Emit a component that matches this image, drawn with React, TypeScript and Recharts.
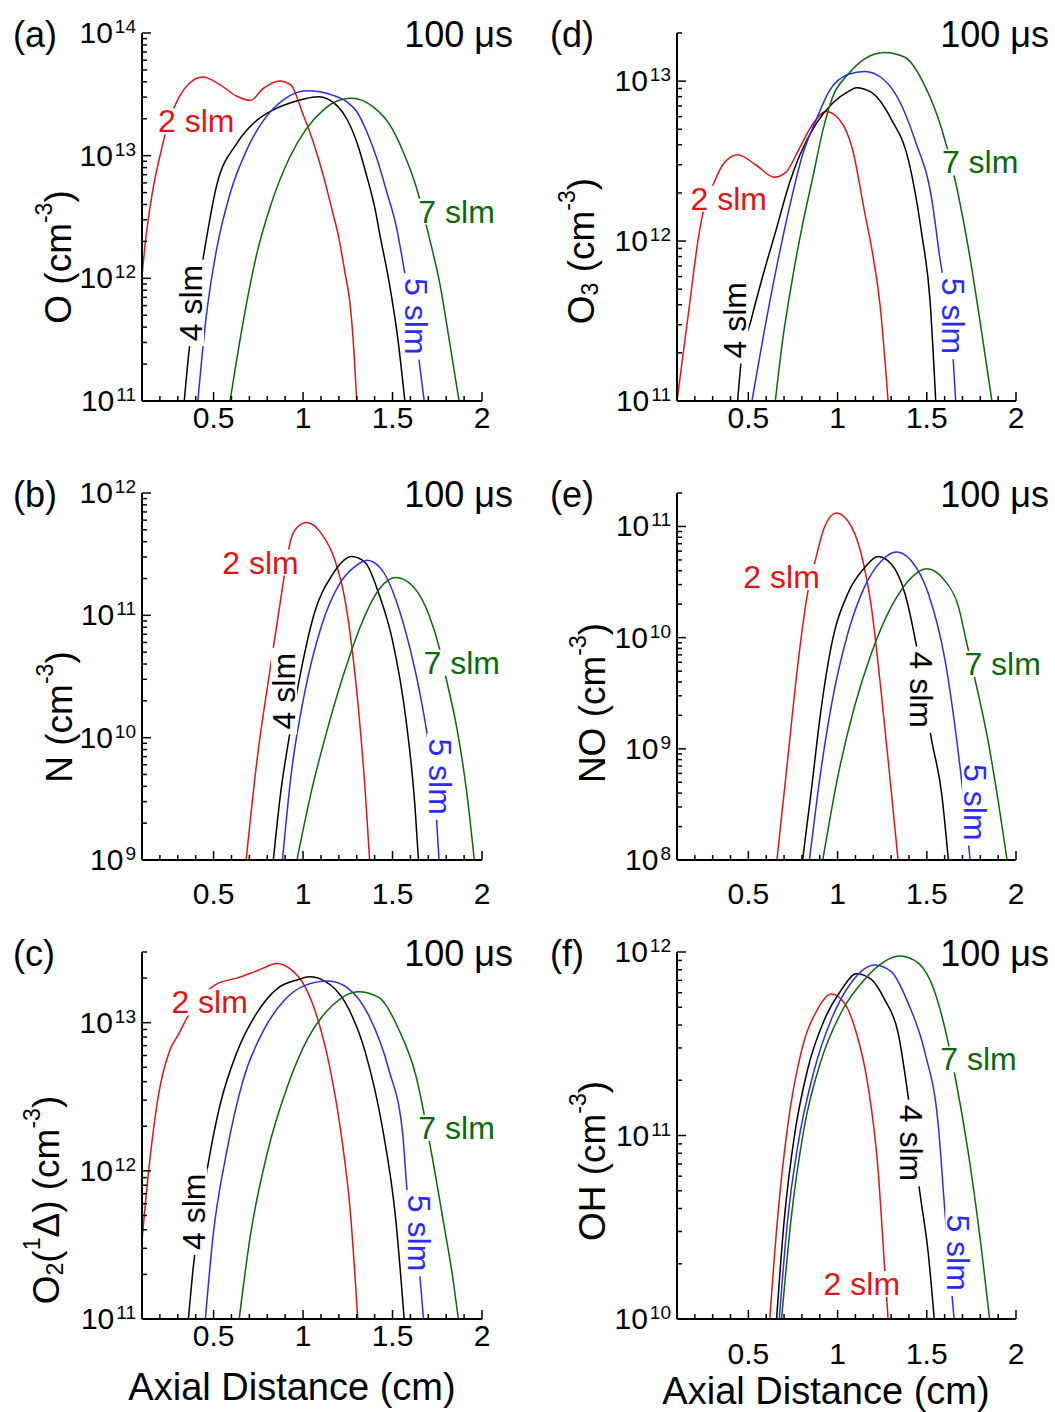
import React from 'react';
import { LineChart, Line, XAxis, YAxis, ReferenceDot } from 'recharts';

type Pt = [number, number];

// ---------------- data (axial distance cm, density cm^-3) ----------------
// (a) O
const O_2slm: Pt[] = [[0.1, 1.04e12], [0.12, 2.04e12], [0.157, 4.9e12], [0.204, 1.05e13], [0.242, 1.74e13], [0.308, 3.02e13], [0.365, 3.89e13], [0.44, 4.37e13], [0.535, 3.8e13], [0.63, 3.05e13], [0.705, 2.82e13], [0.78, 3.55e13], [0.87, 4.07e13], [0.93, 3.8e13], [1.001, 2.15e13], [1.057, 1.29e13], [1.113, 6.9e12], [1.169, 3.3e12], [1.197, 2.24e12], [1.235, 1.1e12], [1.262, 6.3e11], [1.284, 2.6e11], [1.3, 1e11]];
const O_4slm: Pt[] = [[0.336, 1e11], [0.365, 2.75e11], [0.44, 1.41e12], [0.516, 5.62e12], [0.63, 1.26e13], [0.743, 1.95e13], [0.856, 2.45e13], [0.927, 2.69e13], [1.005, 2.9e13], [1.085, 3.02e13], [1.188, 2.57e13], [1.244, 2.0e13], [1.3, 1.29e13], [1.355, 6.9e12], [1.402, 3.7e12], [1.43, 2.24e12], [1.48, 9.5e11], [1.53, 3.2e11], [1.569, 1e11]];
const O_5slm: Pt[] = [[0.412, 1e11], [0.459, 4.9e11], [0.516, 1.7e12], [0.592, 4.9e12], [0.686, 1.12e13], [0.78, 1.95e13], [0.894, 2.88e13], [0.96, 3.25e13], [1.02, 3.38e13], [1.1, 3.3e13], [1.169, 3.1e13], [1.244, 2.75e13], [1.3, 2.29e13], [1.355, 1.58e13], [1.411, 9.6e12], [1.467, 5.1e12], [1.523, 2.57e12], [1.565, 1.18e12], [1.649, 2.1e11], [1.677, 1e11]];
const O_7slm: Pt[] = [[0.592, 1e11], [0.667, 4.57e11], [0.743, 1.62e12], [0.818, 3.89e12], [0.927, 9.8e12], [1.02, 1.67e13], [1.113, 2.35e13], [1.169, 2.7e13], [1.271, 2.94e13], [1.392, 2.5e13], [1.485, 1.78e13], [1.56, 1.07e13], [1.635, 5.4e12], [1.707, 2.1e12], [1.764, 9.1e11], [1.82, 2.95e11], [1.872, 1e11]];

// (b) N
const N_2slm: Pt[] = [[0.682, 1e9], [0.743, 6.6e9], [0.818, 3.8e10], [0.875, 1.35e11], [0.932, 4.17e11], [0.97, 5.3e11], [1.02, 5.75e11], [1.102, 4.68e11], [1.178, 2.82e11], [1.234, 1.35e11], [1.272, 5.62e10], [1.31, 1.7e10], [1.348, 3.55e9], [1.372, 1e9]];
const N_4slm: Pt[] = [[0.834, 1e9], [0.875, 3.55e9], [0.923, 1.02e10], [0.989, 3.55e10], [1.064, 1.05e11], [1.159, 2.09e11], [1.272, 3.02e11], [1.348, 2.69e11], [1.423, 1.51e11], [1.499, 6.3e10], [1.575, 1.41e10], [1.625, 2.8e9], [1.645, 1e9]];
const N_5slm: Pt[] = [[0.885, 1e9], [0.932, 4.8e9], [1.008, 2.29e10], [1.102, 8.1e10], [1.197, 1.74e11], [1.291, 2.51e11], [1.357, 2.82e11], [1.442, 2.34e11], [1.518, 1.35e11], [1.594, 5.62e10], [1.66, 2.04e10], [1.698, 9.5e9], [1.745, 2.24e9], [1.76, 1e9]];
const N_7slm: Pt[] = [[0.966, 1e9], [1.045, 3.55e9], [1.14, 1.23e10], [1.234, 3.55e10], [1.329, 8.7e10], [1.423, 1.62e11], [1.518, 2.04e11], [1.612, 1.74e11], [1.707, 9.8e10], [1.764, 5.25e10], [1.802, 2.95e10], [1.858, 1.23e10], [1.915, 3.55e9], [1.957, 1e9]];

// (c) O2(1Delta)
const D_2slm: Pt[] = [[0.1, 3.4e11], [0.138, 1.02e12], [0.195, 3.4e12], [0.251, 6.3e12], [0.308, 8.5e12], [0.346, 1.05e13], [0.43, 1.48e13], [0.516, 1.82e13], [0.63, 2.0e13], [0.743, 2.24e13], [0.856, 2.51e13], [0.932, 2.29e13], [1.008, 1.78e13], [1.083, 1.05e13], [1.159, 4.37e12], [1.215, 1.7e12], [1.263, 5.5e11], [1.306, 1e11]];
const D_4slm: Pt[] = [[0.359, 1e11], [0.383, 2.04e11], [0.469, 1.1e12], [0.535, 2.75e12], [0.63, 6.3e12], [0.743, 1.17e13], [0.856, 1.7e13], [0.97, 1.95e13], [1.036, 2.04e13], [1.121, 1.91e13], [1.234, 1.38e13], [1.348, 6.3e12], [1.442, 2.0e12], [1.518, 4.7e11], [1.565, 1e11]];
const D_5slm: Pt[] = [[0.454, 1e11], [0.497, 3.63e11], [0.572, 1.32e12], [0.667, 4.17e12], [0.78, 8.9e12], [0.894, 1.41e13], [1.008, 1.78e13], [1.14, 1.91e13], [1.253, 1.7e13], [1.367, 1.12e13], [1.48, 4.79e12], [1.556, 1.82e12], [1.579, 7.9e11], [1.654, 1.9e11], [1.673, 1e11]];
const D_7slm: Pt[] = [[0.643, 1e11], [0.705, 3.63e11], [0.8, 1.32e12], [0.913, 3.72e12], [1.026, 7.8e12], [1.159, 1.29e13], [1.31, 1.62e13], [1.423, 1.48e13], [1.537, 8.9e12], [1.631, 4.37e12], [1.707, 1.55e12], [1.782, 4.7e11], [1.839, 1.82e11], [1.868, 1e11]];

// (d) O3
const O3_2slm: Pt[] = [[0.1, 1e11], [0.169, 3.9e11], [0.216, 9.8e11], [0.244, 1.48e12], [0.309, 2.34e12], [0.356, 2.99e12], [0.44, 3.46e12], [0.543, 2.99e12], [0.645, 2.51e12], [0.711, 2.7e12], [0.786, 3.8e12], [0.861, 5.4e12], [0.935, 6.45e12], [1.01, 5.75e12], [1.085, 3.7e12], [1.15, 1.55e12], [1.195, 8.5e11], [1.24, 3.8e11], [1.283, 1e11]];
const O3_4slm: Pt[] = [[0.44, 1e11], [0.459, 1.74e11], [0.515, 3.2e11], [0.58, 6.0e11], [0.655, 1.17e12], [0.73, 2.3e12], [0.786, 3.4e12], [0.879, 5.4e12], [0.973, 7.3e12], [1.066, 8.7e12], [1.105, 9.1e12], [1.19, 8.5e12], [1.302, 5.75e12], [1.396, 3.24e12], [1.471, 1.12e12], [1.518, 4.27e11], [1.55, 1e11]];
const O3_5slm: Pt[] = [[0.52, 1e11], [0.58, 2.4e11], [0.655, 6.6e11], [0.73, 1.62e12], [0.805, 3.5e12], [0.879, 5.7e12], [0.954, 8.7e12], [1.058, 1.1e13], [1.152, 1.15e13], [1.246, 1.05e13], [1.34, 7.76e12], [1.434, 4.27e12], [1.528, 1.82e12], [1.57, 8.3e11], [1.649, 1.74e11], [1.662, 1e11]];
const O3_7slm: Pt[] = [[0.651, 1e11], [0.692, 2.4e11], [0.749, 6.0e11], [0.805, 1.29e12], [0.861, 2.5e12], [0.917, 4.9e12], [0.973, 8.0e12], [1.058, 1.1e13], [1.152, 1.38e13], [1.264, 1.51e13], [1.377, 1.41e13], [1.49, 9.3e12], [1.584, 5.0e12], [1.659, 2.4e12], [1.734, 8.9e11], [1.809, 2.63e11], [1.865, 1e11]];

// (e) NO
const NO_2slm: Pt[] = [[0.66, 1e8], [0.72, 7.9e8], [0.776, 5.5e9], [0.832, 2.51e10], [0.879, 5.25e10], [0.926, 9.8e10], [0.992, 1.32e11], [1.058, 1.12e11], [1.133, 5.62e10], [1.189, 1.91e10], [1.245, 3.16e9], [1.302, 4.0e8], [1.339, 1e8]];
const NO_4slm: Pt[] = [[0.804, 1e8], [0.851, 4e8], [0.907, 2.24e9], [0.964, 8.3e9], [1.058, 2.51e10], [1.152, 4.27e10], [1.227, 5.37e10], [1.302, 4.57e10], [1.377, 2.51e10], [1.443, 8.3e9], [1.527, 1.2e9], [1.583, 4e8], [1.621, 1e8]];
const NO_5slm: Pt[] = [[0.842, 1e8], [0.889, 4e8], [0.964, 2.4e9], [1.058, 1.1e10], [1.152, 2.88e10], [1.245, 4.9e10], [1.33, 5.9e10], [1.414, 4.9e10], [1.508, 2.51e10], [1.602, 6.3e9], [1.677, 9.1e8], [1.73, 1.6e8], [1.743, 1e8]];
const NO_7slm: Pt[] = [[0.917, 1e8], [1.001, 5.6e8], [1.095, 2.4e9], [1.189, 7.2e9], [1.302, 1.91e10], [1.396, 3.24e10], [1.499, 4.17e10], [1.602, 3.24e10], [1.677, 1.91e10], [1.724, 8.9e9], [1.771, 4.17e9], [1.846, 1.12e9], [1.902, 3.24e8], [1.95, 1e8]];

// (f) OH
const OH_2slm: Pt[] = [[0.62, 1e10], [0.663, 3.47e10], [0.72, 1.12e11], [0.795, 2.82e11], [0.889, 4.9e11], [0.964, 5.9e11], [1.039, 5.25e11], [1.105, 3.63e11], [1.171, 1.86e11], [1.227, 6.5e10], [1.261, 2.09e10], [1.283, 1e10]];
const OH_4slm: Pt[] = [[0.658, 1e10], [0.701, 3.47e10], [0.757, 9.8e10], [0.832, 2.29e11], [0.926, 4.27e11], [1.02, 6.2e11], [1.105, 7.6e11], [1.189, 7.1e11], [1.264, 5.5e11], [1.339, 3.63e11], [1.396, 1.62e11], [1.461, 4.9e10], [1.508, 2.29e10], [1.542, 1e10]];
const OH_5slm: Pt[] = [[0.673, 1e10], [0.72, 3.47e10], [0.776, 8.7e10], [0.87, 2.29e11], [0.964, 4.27e11], [1.076, 6.8e11], [1.208, 8.5e11], [1.302, 7.8e11], [1.396, 5.25e11], [1.49, 2.82e11], [1.565, 1.12e11], [1.602, 3.8e10], [1.644, 1.26e10], [1.653, 1e10]];
const OH_7slm: Pt[] = [[0.686, 1e10], [0.739, 3.47e10], [0.814, 1.12e11], [0.908, 2.57e11], [1.02, 4.68e11], [1.152, 7.1e11], [1.264, 8.9e11], [1.349, 9.5e11], [1.452, 8.7e11], [1.546, 6.0e11], [1.612, 3.47e11], [1.659, 2.09e11], [1.734, 7.9e10], [1.809, 2.29e10], [1.852, 1e10]];

// ---------------- axis ticks / labels ----------------
const X_TICKS = [0.2, 0.3, 0.4, 0.5, 0.6, 0.7, 0.8, 0.9, 1, 1.1, 1.2, 1.3, 1.4, 1.5, 1.6, 1.7, 1.8, 1.9, 2];
const X_LABELS = [0.5, 1, 1.5, 2];
const FLOW_NAMES = ['2 slm', '4 slm', '5 slm', '7 slm'];
const TIME_LABEL = '100 \u03bcs';
const X_TITLE = 'Axial Distance (cm)';

// curve-label anchors (data coords): [series index, x, y, rotation]
const O_LABELS: [number, number, number, number][] = [[0, 0.403, 1.9e13, 0], [1, 0.374, 6.3e11, -90], [2, 1.631, 4.9e11, 90], [3, 1.858, 3.5e12, 0]];
const N_LABELS: [number, number, number, number][] = [[0, 0.762, 2.7e11, 0], [1, 0.894, 2.4e10, -90], [2, 1.764, 4.8e9, 90], [3, 1.887, 4.1e10, 0]];
const D_LABELS: [number, number, number, number][] = [[0, 0.478, 1.37e13, 0], [1, 0.393, 5.3e11, -90], [2, 1.65, 3.8e11, 90], [3, 1.858, 1.95e12, 0]];
const O3_LABELS: [number, number, number, number][] = [[0, 0.39, 1.84e12, 0], [1, 0.427, 3.2e11, -90], [2, 1.649, 3.4e11, 90], [3, 1.799, 3.1e12, 0]];
const NO_LABELS: [number, number, number, number][] = [[0, 0.686, 3.5e10, 0], [1, 1.467, 3.4e9, 90], [2, 1.771, 3.3e8, 90], [3, 1.925, 5.8e9, 0]];
const OH_LABELS: [number, number, number, number][] = [[0, 1.136, 1.55e10, 0], [1, 1.41, 9.1e10, 90], [2, 1.677, 2.3e10, 90], [3, 1.79, 2.6e11, 0]];

// ---------------- styling ----------------
const FONT = '"Liberation Sans", Arial, Helvetica, sans-serif';
const COLORS = ['#e31414', '#000000', '#2b2bff', '#0a6a0a'];
const Y_AXIS_W = 60;
const X_AXIS_H = 30;
const TICK_FONT = 30;

function logTicks(lo: number, hi: number): number[] {
  const out: number[] = [];
  for (let e = Math.floor(Math.log10(lo)); e <= Math.ceil(Math.log10(hi)); e++) {
    for (let m = 1; m < 10; m++) {
      const v = m * Math.pow(10, e);
      if (v >= lo * 0.999 && v <= hi * 1.001) out.push(v);
    }
  }
  return out;
}

const YTick = (props: any) => {
  const { x, y, payload } = props;
  const v = payload.value as number;
  const e = Math.round(Math.log10(v));
  const major = Math.abs(v / Math.pow(10, e) - 1) < 1e-6;
  return (
    <g>
      <line x1={x} x2={x + (major ? 9 : 5)} y1={y} y2={y} stroke="#000" strokeWidth={1.5} />
      {major && (
        <text x={x - 6} y={y + 10} textAnchor="end" fontFamily={FONT} fill="#000">
          <tspan fontSize={TICK_FONT}>10</tspan>
          <tspan fontSize={19} dx={2} dy={-10}>{String(e)}</tspan>
        </text>
      )}
    </g>
  );
};

const makeXTick = (off: number) => (props: any) => {
  const { x, y, payload } = props;
  const v = payload.value as number;
  const major = X_LABELS.some((m) => Math.abs(m - v) < 1e-6);
  return (
    <g>
      <line x1={x} x2={x} y1={y} y2={y - (major ? 9 : 5)} stroke="#000" strokeWidth={1.5} />
      {major && (
        <text x={x} y={y + off} textAnchor="middle" fontFamily={FONT} fontSize={TICK_FONT} fill="#000">
          {String(v)}
        </text>
      )}
    </g>
  );
};

const makeLabelShape = (text: string, color: string, rot: number) => (p: any) => {
  const { cx, cy } = p;
  const w = text.length * 15.3 + 10;
  return (
    <g transform={rot ? `rotate(${rot} ${cx} ${cy})` : undefined}>
      <rect x={cx - w / 2} y={cy - 13} width={w} height={26} fill="#fff" />
      <text x={cx} y={cy + 11} textAnchor="middle" fontFamily={FONT} fontSize={32} fill={color}>
        {text}
      </text>
    </g>
  );
};

type Panel = {
  key: string;
  left: number;
  top: number;
  w: number;
  h: number;
  plot: { top: number; left: number; right: number; bottom: number };
  yDomain: [number, number];
  series: Pt[][];
  labels: [number, number, number, number][];
  xOff: number;
};

const PANELS: Panel[] = [
  { key: 'a', left: 0, top: 0, w: 530, h: 460, plot: { top: 33, left: 142, right: 48, bottom: 59 }, yDomain: [1e11, 1e14], series: [O_2slm, O_4slm, O_5slm, O_7slm], labels: O_LABELS, xOff: 27 },
  { key: 'b', left: 0, top: 460, w: 530, h: 460, plot: { top: 33, left: 142, right: 48, bottom: 60 }, yDomain: [1e9, 1e12], series: [N_2slm, N_4slm, N_5slm, N_7slm], labels: N_LABELS, xOff: 44 },
  { key: 'c', left: 0, top: 920, w: 530, h: 492, plot: { top: 32, left: 142, right: 48, bottom: 93 }, yDomain: [1e11, 3e13], series: [D_2slm, D_4slm, D_5slm, D_7slm], labels: D_LABELS, xOff: 27 },
  { key: 'd', left: 530, top: 0, w: 525, h: 460, plot: { top: 33, left: 147, right: 39, bottom: 59 }, yDomain: [1e11, 2e13], series: [O3_2slm, O3_4slm, O3_5slm, O3_7slm], labels: O3_LABELS, xOff: 27 },
  { key: 'e', left: 530, top: 460, w: 525, h: 460, plot: { top: 33, left: 147, right: 39, bottom: 60 }, yDomain: [1e8, 2e11], series: [NO_2slm, NO_4slm, NO_5slm, NO_7slm], labels: NO_LABELS, xOff: 44 },
  { key: 'f', left: 530, top: 920, w: 525, h: 492, plot: { top: 32, left: 147, right: 39, bottom: 93 }, yDomain: [1e10, 1e12], series: [OH_2slm, OH_4slm, OH_5slm, OH_7slm], labels: OH_LABELS, xOff: 45 },
];

const PanelChart = ({ p }: { p: Panel }) => (
  <div style={{ position: 'absolute', left: p.left, top: p.top, width: p.w, height: p.h }}>
    <LineChart
      width={p.w}
      height={p.h}
      margin={{ top: p.plot.top, right: p.plot.right, left: p.plot.left - Y_AXIS_W, bottom: p.plot.bottom - X_AXIS_H }}
    >
      <XAxis
        type="number"
        dataKey="x"
        domain={[0.1, 2]}
        ticks={X_TICKS}
        interval={0}
        allowDataOverflow
        height={X_AXIS_H}
        tickSize={0}
        tickMargin={0}
        tickLine={false}
        axisLine={{ stroke: '#000', strokeWidth: 2 }}
        tick={makeXTick(p.xOff)}
      />
      <YAxis
        type="number"
        scale="log"
        domain={p.yDomain}
        ticks={logTicks(p.yDomain[0], p.yDomain[1])}
        interval={0}
        allowDataOverflow
        width={Y_AXIS_W}
        tickSize={0}
        tickMargin={0}
        tickLine={false}
        axisLine={{ stroke: '#000', strokeWidth: 2 }}
        tick={YTick}
      />
      {p.series.map((s, i) => (
        <Line
          key={FLOW_NAMES[i]}
          name={FLOW_NAMES[i]}
          data={s.map(([x, y]) => ({ x, y }))}
          dataKey="y"
          type="monotone"
          stroke={COLORS[i]}
          strokeWidth={1.5}
          dot={false}
          activeDot={false}
          isAnimationActive={false}
        />
      ))}
      {p.labels.map(([i, x, y, rot]) => (
        <ReferenceDot
          key={'lab' + i}
          x={x}
          y={y}
          r={1}
          ifOverflow="visible"
          zIndex={2000}
          shape={makeLabelShape(FLOW_NAMES[i], COLORS[i], rot)}
        />
      ))}
    </LineChart>
  </div>
);

const SUP = 23;

const Overlay = () => (
  <svg width={1055} height={1412} style={{ position: 'absolute', left: 0, top: 0, pointerEvents: 'none' }}>
    <g fontFamily={FONT} fill="#000">
      <text x={13} y={47} fontSize={36}>(a)</text>
      <text x={13} y={507} fontSize={36}>(b)</text>
      <text x={13} y={966} fontSize={36}>(c)</text>
      <text x={550} y={47} fontSize={36}>(d)</text>
      <text x={550} y={507} fontSize={36}>(e)</text>
      <text x={550} y={966} fontSize={36}>(f)</text>
      <text x={513} y={47} fontSize={36} textAnchor="end">{TIME_LABEL}</text>
      <text x={513} y={507} fontSize={36} textAnchor="end">{TIME_LABEL}</text>
      <text x={513} y={966} fontSize={36} textAnchor="end">{TIME_LABEL}</text>
      <text x={1049} y={47} fontSize={36} textAnchor="end">{TIME_LABEL}</text>
      <text x={1049} y={507} fontSize={36} textAnchor="end">{TIME_LABEL}</text>
      <text x={1049} y={966} fontSize={36} textAnchor="end">{TIME_LABEL}</text>
      <text x={58} y={257} fontSize={37} textAnchor="middle" dominantBaseline="central" transform="rotate(-90 58 257)">
        O (cm<tspan fontSize={SUP} dy={-14}>-3</tspan><tspan dy={14}>)</tspan>
      </text>
      <text x={59} y={717} fontSize={37} textAnchor="middle" dominantBaseline="central" transform="rotate(-90 59 717)">
        N (cm<tspan fontSize={SUP} dy={-14}>-3</tspan><tspan dy={14}>)</tspan>
      </text>
      <text x={46} y={1200} fontSize={37} textAnchor="middle" dominantBaseline="central" transform="rotate(-90 46 1200)">
        O<tspan fontSize={SUP} dy={9}>2</tspan><tspan dy={-9}>(</tspan><tspan fontSize={SUP} dy={-14}>1</tspan><tspan dy={14}>{'\u0394) (cm'}</tspan><tspan fontSize={SUP} dy={-14}>-3</tspan><tspan dy={14}>)</tspan>
      </text>
      <text x={581} y={251} fontSize={37} textAnchor="middle" dominantBaseline="central" transform="rotate(-90 581 251)">
        O<tspan fontSize={SUP} dy={9}>3</tspan><tspan dy={-9}> (cm</tspan><tspan fontSize={SUP} dy={-14}>-3</tspan><tspan dy={14}>)</tspan>
      </text>
      <text x={592} y={703} fontSize={37} textAnchor="middle" dominantBaseline="central" transform="rotate(-90 592 703)">
        NO (cm<tspan fontSize={SUP} dy={-14}>-3</tspan><tspan dy={14}>)</tspan>
      </text>
      <text x={592} y={1161} fontSize={37} textAnchor="middle" dominantBaseline="central" transform="rotate(-90 592 1161)">
        OH (cm<tspan fontSize={SUP} dy={-14}>-3</tspan><tspan dy={14}>)</tspan>
      </text>
      <text x={292} y={1400} fontSize={38} textAnchor="middle">{X_TITLE}</text>
      <text x={826} y={1404} fontSize={38} textAnchor="middle">{X_TITLE}</text>
    </g>
  </svg>
);

export default function App() {
  return (
    <div style={{ position: 'absolute', left: 0, top: 0, width: 1055, height: 1412, background: '#fff', overflow: 'hidden' }}>
      {PANELS.map((p) => (
        <PanelChart key={p.key} p={p} />
      ))}
      <Overlay />
    </div>
  );
}
